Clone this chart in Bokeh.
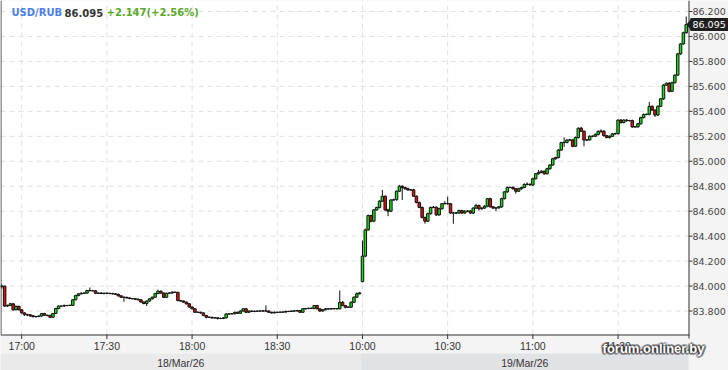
import numpy as np
from bokeh.plotting import figure
from bokeh.models import Range1d, ColumnDataSource
from bokeh.embed import file_html
from bokeh.resources import INLINE
from bokeh.core.properties import value

# ---------------- data ----------------
symbol = "USD/RUB"
last_price_text = "86.095"
change_text = "+2.147(+2.56%)"
last_price = 86.095
watermark = "forum.onliner.by"

session_dates = ["18/Mar/26", "19/Mar/26"]
session_starts = ["16:53", "10:00"]

tick_labels = ["17:00", "17:30", "18:00", "18:30", "10:00", "10:30", "11:00", "11:30"]
tick_session = [0, 0, 0, 0, 1, 1, 1, 1]
price_ticks = [83.8, 84.0, 84.2, 84.4, 84.6, 84.8, 85.0, 85.2, 85.4, 85.6, 85.8, 86.0, 86.2]
price_min, price_max = 83.612, 86.288

day1_open = 83.995
day1_close = [
    84.000, 83.840, 83.845, 83.858, 83.810, 83.838, 83.810, 83.785, 83.770, 83.770,
    83.762, 83.755, 83.756, 83.760, 83.780, 83.766, 83.765, 83.750, 83.780, 83.820,
    83.840, 83.840, 83.845, 83.844, 83.846, 83.890, 83.924, 83.938, 83.942, 83.944,
    83.964, 83.963, 83.962, 83.942, 83.944, 83.940, 83.943, 83.942, 83.940, 83.938,
    83.934, 83.922, 83.910, 83.910, 83.905, 83.900, 83.898, 83.895, 83.890, 83.872,
    83.860, 83.880, 83.898, 83.911, 83.940, 83.959, 83.944, 83.910, 83.943, 83.944,
    83.951, 83.950, 83.884, 83.880, 83.871, 83.858, 83.832, 83.818, 83.790, 83.790,
    83.785, 83.764, 83.750, 83.750, 83.745, 83.746, 83.740, 83.741, 83.745, 83.777,
    83.777, 83.778, 83.790, 83.782, 83.800, 83.818, 83.790, 83.800, 83.797, 83.798,
    83.800, 83.800, 83.801, 83.800, 83.790, 83.785, 83.790, 83.790, 83.791, 83.792,
    83.797, 83.797, 83.800, 83.801, 83.804, 83.790, 83.818, 83.820, 83.822, 83.821,
    83.844, 83.818, 83.800, 83.810, 83.818, 83.817, 83.818, 83.820, 83.818, 83.870,
    83.844, 83.830, 83.831, 83.870, 83.911, 83.938, 83.945,
]
# wick lengths beyond the body, in thousandths
day1_wick_up = [
    15, 3, 6, 8, 4, 5, 4, 6, 5, 8,
    6, 4, 5, 4, 5, 6, 4, 5, 3, 6,
    5, 4, 6, 3, 5, 4, 6, 5, 8, 4,
    6, 25, 5, 6, 4, 8, 3, 5, 4, 6,
    4, 5, 4, 6, 4, 5, 3, 6, 4, 5,
    4, 6, 5, 4, 6, 12, 5, 6, 4, 5,
    6, 4, 5, 6, 4, 5, 6, 4, 5, 6,
    4, 5, 3, 6, 4, 5, 3, 6, 4, 5,
    4, 6, 4, 5, 6, 4, 5, 4, 6, 5,
    4, 5, 6, 45, 5, 4, 6, 4, 5, 3,
    6, 4, 5, 6, 4, 5, 6, 4, 5, 6,
    4, 5, 4, 6, 5, 4, 6, 5, 4, 95,
    10, 5, 6, 8, 6, 12, 8,
]
day1_wick_dn = [
    15, 8, 6, 5, 8, 4, 6, 5, 8, 12,
    10, 6, 8, 5, 6, 4, 8, 6, 5, 4,
    6, 4, 5, 6, 4, 5, 4, 6, 5, 4,
    6, 5, 4, 6, 5, 4, 6, 5, 4, 6,
    5, 6, 4, 35, 5, 6, 4, 5, 6, 5,
    6, 20, 4, 5, 4, 5, 6, 5, 4, 6,
    4, 5, 6, 4, 5, 6, 4, 6, 5, 4,
    6, 5, 8, 6, 8, 6, 8, 5, 6, 4,
    6, 4, 5, 6, 4, 5, 6, 5, 4, 6,
    5, 4, 6, 5, 6, 5, 4, 6, 5, 4,
    5, 6, 4, 5, 6, 5, 4, 6, 5, 4,
    6, 5, 8, 5, 4, 6, 5, 4, 6, 5,
    6, 8, 5, 6, 5, 6, 5,
]

day2_open = 84.036
day2_close = [
    84.240, 84.450, 84.565, 84.520, 84.610, 84.630, 84.680, 84.720, 84.610, 84.600,
    84.690, 84.692, 84.760, 84.800, 84.790, 84.780, 84.770, 84.771, 84.720, 84.670,
    84.630, 84.550, 84.520, 84.580, 84.630, 84.632, 84.570, 84.620, 84.660, 84.661,
    84.660, 84.585, 84.586, 84.585, 84.605, 84.585, 84.600, 84.601, 84.585, 84.625,
    84.645, 84.620, 84.625, 84.640, 84.700, 84.635, 84.625, 84.626, 84.635, 84.700,
    84.755, 84.790, 84.791, 84.780, 84.760, 84.780, 84.790, 84.815, 84.816, 84.810,
    84.860, 84.900, 84.910, 84.920, 84.900, 84.940, 84.970, 85.020, 85.030, 85.090,
    85.150, 85.151, 85.170, 85.171, 85.120, 85.190, 85.265, 85.240, 85.170, 85.171,
    85.200, 85.201, 85.215, 85.240, 85.241, 85.205, 85.190, 85.200, 85.220, 85.221,
    85.330, 85.310, 85.330, 85.325, 85.326, 85.275, 85.276, 85.300, 85.350, 85.375,
    85.376, 85.440, 85.410, 85.370, 85.440, 85.500, 85.610, 85.625, 85.560, 85.630,
    85.690, 85.860, 85.940, 86.030, 86.095,
]
day2_wick_up = [
    125, 10, 8, 6, 8, 6, 8, 50, 6, 10,
    6, 8, 6, 10, 8, 6, 8, 6, 8, 6,
    6, 8, 6, 8, 6, 10, 6, 8, 6, 20,
    55, 6, 8, 6, 8, 6, 8, 6, 8, 6,
    15, 8, 6, 8, 6, 8, 6, 8, 6, 8,
    6, 8, 6, 8, 6, 8, 6, 8, 15, 6,
    8, 6, 20, 8, 6, 8, 6, 8, 6, 8,
    6, 40, 6, 8, 6, 8, 6, 10, 8, 6,
    8, 6, 8, 6, 15, 8, 6, 8, 6, 8,
    6, 8, 6, 8, 6, 8, 6, 8, 6, 8,
    6, 35, 8, 6, 8, 6, 8, 6, 10, 8,
    6, 8, 6, 8, 65,
]
day2_wick_dn = [
    6, 8, 6, 10, 8, 6, 8, 6, 10, 40,
    8, 6, 8, 6, 100, 8, 6, 8, 6, 8,
    6, 8, 20, 6, 8, 6, 8, 6, 8, 6,
    8, 6, 85, 8, 6, 8, 6, 8, 6, 8,
    6, 15, 8, 6, 8, 6, 8, 25, 6, 8,
    6, 8, 6, 8, 20, 6, 8, 6, 8, 6,
    8, 6, 8, 6, 8, 6, 8, 6, 8, 6,
    8, 35, 8, 6, 8, 6, 8, 6, 50, 8,
    6, 8, 6, 8, 15, 8, 6, 8, 6, 8,
    6, 8, 6, 8, 6, 8, 6, 8, 6, 8,
    6, 8, 6, 15, 8, 6, 8, 6, 8, 6,
    8, 6, 8, 6, 8,
]

# ---------------- build candles ----------------
def build(first_open, closes, wu, wd):
    c = np.array(closes, dtype=float)
    o = np.concatenate([[first_open], c[:-1]])
    top = np.maximum(o, c)
    bot = np.minimum(o, c)
    hi = top + np.array(wu) / 1000.0
    lo = bot - np.array(wd) / 1000.0
    return o, c, top, bot, hi, lo

sessions = [build(day1_open, day1_close, day1_wick_up, day1_wick_dn),
            build(day2_open, day2_close, day2_wick_up, day2_wick_dn)]
n1 = len(day1_close)
n2 = len(day2_close)
xi = np.arange(n1 + n2)
o = np.concatenate([s[0] for s in sessions])
c = np.concatenate([s[1] for s in sessions])
top = np.concatenate([s[2] for s in sessions])
bot = np.concatenate([s[3] for s in sessions])
hi = np.concatenate([s[4] for s in sessions])
lo = np.concatenate([s[5] for s in sessions])
colors = np.where(c < o, "#e30d0d", "#0fe20f")
src = ColumnDataSource(dict(x=xi, top=top, bot=bot, hi=hi, lo=lo, color=colors))

session_offset = [0, n1]
def to_min(t):
    h, m = t.split(":")
    return int(h) * 60 + int(m)
tick_pos = [session_offset[s] + to_min(t) - to_min(session_starts[s])
            for t, s in zip(tick_labels, tick_session)]

# ---------------- geometry (pixel helpers) ----------------
W, H = 728, 370          # canvas
PW, PH = 688, 334        # plot area (frame of the price chart)
x_lo, x_hi = -0.46, n1 + n2 - 0.2
upp = (x_hi - x_lo) / PW            # index units per pixel
ppu = PH / (price_max - price_min)  # pixels per price unit
def X(px):
    return x_lo + px * upp
def Y(py):
    return price_max - py / ppu

BG = "#f4f4f5"
AXIS_C = "#333333"
GRID_C = "#e0e0e0"
TXT_C = "#333333"

p = figure(width=W, height=H, x_range=Range1d(X(0), X(W)), y_range=Range1d(Y(H), Y(0)),
           x_axis_location=None, y_axis_location=None, min_border=0,
           toolbar_location=None, output_backend="svg")
p.grid.visible = False
p.outline_line_color = None
p.background_fill_color = BG
p.border_fill_color = BG

# plot area
p.quad(left=[x_lo], right=[x_hi], bottom=[price_min], top=[price_max],
       fill_color="white", line_color=None)

# grid
p.segment(x0=[x_lo] * len(price_ticks), y0=price_ticks, x1=[x_hi] * len(price_ticks),
          y1=price_ticks, line_color=GRID_C, line_dash="5 4", line_width=1)
p.segment(x0=tick_pos, y0=[price_min] * len(tick_pos), x1=tick_pos,
          y1=[price_max] * len(tick_pos), line_color=GRID_C, line_dash="5 4", line_width=1)

# candles
p.segment(x0="x", y0="hi", x1="x", y1="lo", source=src, line_color="#111111", line_width=1)
p.vbar(x="x", width=0.88, top="top", bottom="bot", source=src, fill_color="color",
       line_color="#111111", line_width=1)

# frame border (left, right axis line, bottom axis line)
p.multi_line(xs=[[X(0.5), X(0.5)], [X(688.5), X(688.5)], [X(0), X(689)]],
             ys=[[Y(0), Y(334)], [Y(0), Y(338)], [Y(334.5), Y(334.5)]],
             line_color=AXIS_C, line_width=1)

# right price axis
p.segment(x0=[X(688.5)] * len(price_ticks), y0=price_ticks,
          x1=[X(692)] * len(price_ticks), y1=price_ticks, line_color=AXIS_C, line_width=1)
p.text(x=[X(692)] * len(price_ticks), y=price_ticks,
       text=["{:.3f}".format(t) for t in price_ticks], text_baseline="middle",
       text_align="left", text_font=value("DejaVu Sans"), text_font_size="9.5px",
       text_color="#444444")

# bottom time axis
p.segment(x0=tick_pos, y0=[Y(334)] * len(tick_pos), x1=tick_pos,
          y1=[Y(338.5)] * len(tick_pos), line_color=AXIS_C, line_width=1)
p.text(x=tick_pos, y=[Y(345.5)] * len(tick_pos), text=tick_labels, text_align="center",
       text_baseline="middle", text_font=value("Liberation Sans"),
       text_font_size="10.5px", text_color=TXT_C)

# date band
band_left = [x_lo, n1 - 0.5]
band_right = [n1 - 0.5, x_hi]
band_mid = [(a + b) / 2 for a, b in zip(band_left, band_right)]
p.quad(left=band_left, right=band_right, bottom=[Y(H)] * 2, top=[Y(353)] * 2,
       fill_color=["#eaeaeb", "#e1e2e3"], line_color=None)
p.text(x=band_mid, y=[Y(362)] * 2, text=session_dates, text_align="center",
       text_baseline="middle", text_font=value("Liberation Sans"),
       text_font_size="10.5px", text_color=TXT_C)

# title
title_parts = [symbol, last_price_text, change_text]
title_colors = ["#4b7fe6", "#333333", "#5aa92a"]
title_px = [11, 64, 106]
p.text(x=[X(v) for v in title_px], y=[Y(12)] * 3, text=title_parts, text_color=title_colors,
       text_font=value("DejaVu Sans"), text_font_style="bold", text_font_size="10px",
       text_baseline="middle", text_align="left")

# last price marker
half = 6.5 / ppu
p.patch(x=[X(686), X(691), X(691)], y=[last_price, last_price + half, last_price - half],
        fill_color="#1e1e1e", line_color=None)
p.quad(left=[X(690)], right=[X(728)], bottom=[last_price - half], top=[last_price + half],
       fill_color="#1e1e1e", line_color=None)
p.text(x=[X(692)], y=[last_price], text=[last_price_text], text_color="white",
       text_font=value("DejaVu Sans"), text_font_size="9.5px", text_baseline="middle",
       text_align="left")

# watermark
wm_x, wm_y = X(653), Y(348)
for dx, dy in [(-1, 0), (1, 0), (0, -1), (0, 1), (-2, -1), (2, 1), (1, -2), (-1, 2),
               (2, -1), (-2, 1), (-2, 0), (2, 0), (0, 2), (0, -2)]:
    p.text(x=[wm_x], y=[wm_y], text=[watermark], x_offset=dx, y_offset=dy,
           text_align="center", text_baseline="middle", text_color="#2a2a2a",
           text_alpha=0.28, text_font=value("Liberation Sans"), text_font_style="bold",
           text_font_size="13px")
p.text(x=[wm_x], y=[wm_y], text=[watermark], text_align="center", text_baseline="middle",
       text_color="white", text_font=value("Liberation Sans"), text_font_style="bold",
       text_font_size="13px")

open("out.html", "w").write(file_html(p, INLINE))
